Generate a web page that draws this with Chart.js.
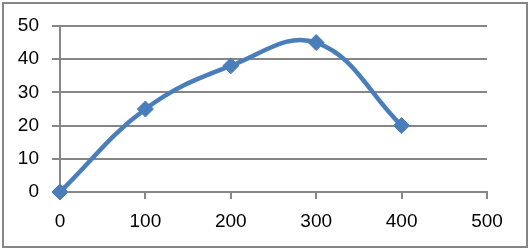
<!DOCTYPE html>
<html><head><meta charset="utf-8">
<script src="https://cdn.jsdelivr.net/npm/chart.js@4/dist/chart.umd.min.js"></script>
<style>html,body{margin:0;padding:0;background:#fff}#wrap{width:532px;height:252px;position:relative}</style>
</head><body><div id="wrap"><canvas id="c" width="532" height="252"></canvas></div>
<script>
const xValues = [0, 100, 200, 300, 400];
const yValues = [0, 25, 38, 45, 20];
const xTicks = [0, 100, 200, 300, 400, 500];
const yTicks = [0, 10, 20, 30, 40, 50];

const points = xValues.map((x, i) => ({x: x, y: yValues[i]}));
const GRID = '#868686';
const FONT = {family: '"Liberation Sans", Arial, sans-serif', size: 19};

const frame = {
  id: 'frame',
  beforeDraw(chart) {
    const ctx = chart.ctx;
    ctx.save();
    ctx.fillStyle = '#fff';
    ctx.fillRect(0, 0, chart.width, chart.height);
    ctx.strokeStyle = GRID;
    ctx.lineWidth = 2;
    ctx.strokeRect(3, 3, 524, 244);
    ctx.restore();
  }
};

new Chart(document.getElementById('c'), {
  type: 'scatter',
  data: {
    datasets: [{
      data: points,
      showLine: true,
      clip: false,
      borderColor: '#4A7EBB',
      backgroundColor: '#4A7EBB',
      borderWidth: 4.5,
      tension: 0.4,
      pointStyle: 'rectRot',
      pointRadius: 8,
      pointHoverRadius: 8,
      pointBorderWidth: 1,
      pointBorderColor: '#4A7EBB',
      pointBackgroundColor: '#4A7EBB'
    }]
  },
  options: {
    responsive: false,
    animation: false,
    devicePixelRatio: 1,
    layout: {padding: {top: 26, right: 45, left: 0, bottom: 0}},
    plugins: {legend: {display: false}, tooltip: {enabled: false}},
    scales: {
      x: {
        type: 'linear', min: 0, max: 500,
        afterBuildTicks(s) { s.ticks = xTicks.map(v => ({value: v})); },
        afterFit(s) { s.height = 60; },
        grid: {drawOnChartArea: false, drawTicks: true, tickLength: 7, color: GRID, lineWidth: 2},
        border: {display: true, color: GRID, width: 2},
        ticks: {color: '#000', font: FONT, padding: 11, maxRotation: 0}
      },
      y: {
        type: 'linear', min: 0, max: 50,
        afterBuildTicks(s) { s.ticks = yTicks.map(v => ({value: v})); },
        afterFit(s) { s.width = 60; },
        grid: {drawOnChartArea: true, drawTicks: true, tickLength: 8, color: GRID, lineWidth: 2},
        border: {display: true, color: GRID, width: 2},
        ticks: {color: '#000', font: FONT, padding: 13}
      }
    }
  },
  plugins: [frame]
});
</script>
</body></html>
